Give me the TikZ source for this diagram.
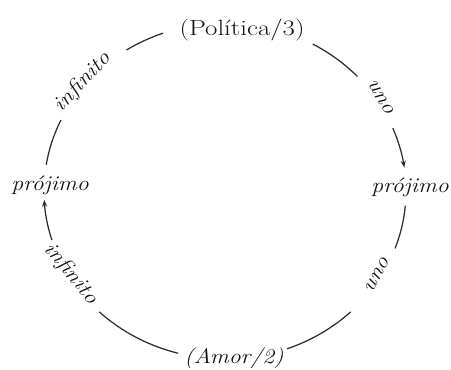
\documentclass[tikz,border=0pt]{standalone}
\usepackage{fontspec}
\usetikzlibrary{arrows.meta,calc}
\newcommand\lbltxt[1]{\fontsize{21}{25}\selectfont\scalebox{1.13}[1]{\itshape #1}}
\newcommand\toptxt[1]{\fontsize{22}{26}\selectfont\scalebox{1.22}[1]{#1}}
\begin{document}
\begin{tikzpicture}[x=1pt,y=1pt,
  lbl/.style={inner sep=0pt, text=black!92},
  arcline/.style={draw=black!82, line width=1.25pt},
  tipend/.style={-{Stealth[length=7pt,width=5pt]}},
  ell/.style={x radius=181, y radius=168}
]
\useasboundingbox (0,0) rectangle (451,370);
\coordinate (C) at (225,179);
% main nodes
\node[lbl, anchor=base] (L) at (50,179) {\lbltxt{prójimo}};
\node[lbl, anchor=base] (R) at (410,177) {\lbltxt{prójimo}};
\node[lbl, anchor=base] (T) at (242,334) {\toptxt{(Política/3)}};
\node[lbl, anchor=base] (B) at (234,6) {\lbltxt{(Amor/2)}};
% arc labels
\node[lbl, rotate=47] (i1) at (83,288) {\lbltxt{infinito}};
\node[lbl, rotate=-58] (u1) at (381,273) {\lbltxt{uno}};
\node[lbl, rotate=62] (u2) at (377,95) {\lbltxt{uno}};
\node[lbl, rotate=-50] (i2) at (71,96) {\lbltxt{infinito}};
% arc end points
\coordinate (a1) at ($(C)+(171:181 and 168)$);
\coordinate (a2) at ($(C)+(123:181 and 168)$);
\coordinate (a3) at ($(C)+(61:181 and 168)$);
\coordinate (a4) at ($(C)+(22:181 and 168)$);
\coordinate (a5) at ($(C)+(-5:181 and 168)$);
\coordinate (a6) at ($(C)+(-46:181 and 168)$);
\coordinate (a7) at ($(C)+(-105:181 and 168)$);
\coordinate (a8) at ($(C)+(-163:181 and 168)$);
% connectors
\draw[arcline] (a1) arc[ell, start angle=171, end angle=155];
\draw[arcline] (a2) arc[ell, start angle=123, end angle=110];
\draw[arcline] (a3) arc[ell, start angle=61, end angle=43];
\draw[arcline, tipend] (a4) arc[ell, start angle=22, end angle=8];
\draw[arcline] (a5) arc[ell, start angle=-5, end angle=-20];
\draw[arcline] (a6) arc[ell, start angle=-46, end angle=-70];
\draw[arcline] (a7) arc[ell, start angle=-105, end angle=-134];
\draw[arcline, tipend] (a8) arc[ell, start angle=-163, end angle=-177];
\end{tikzpicture}
\end{document}
